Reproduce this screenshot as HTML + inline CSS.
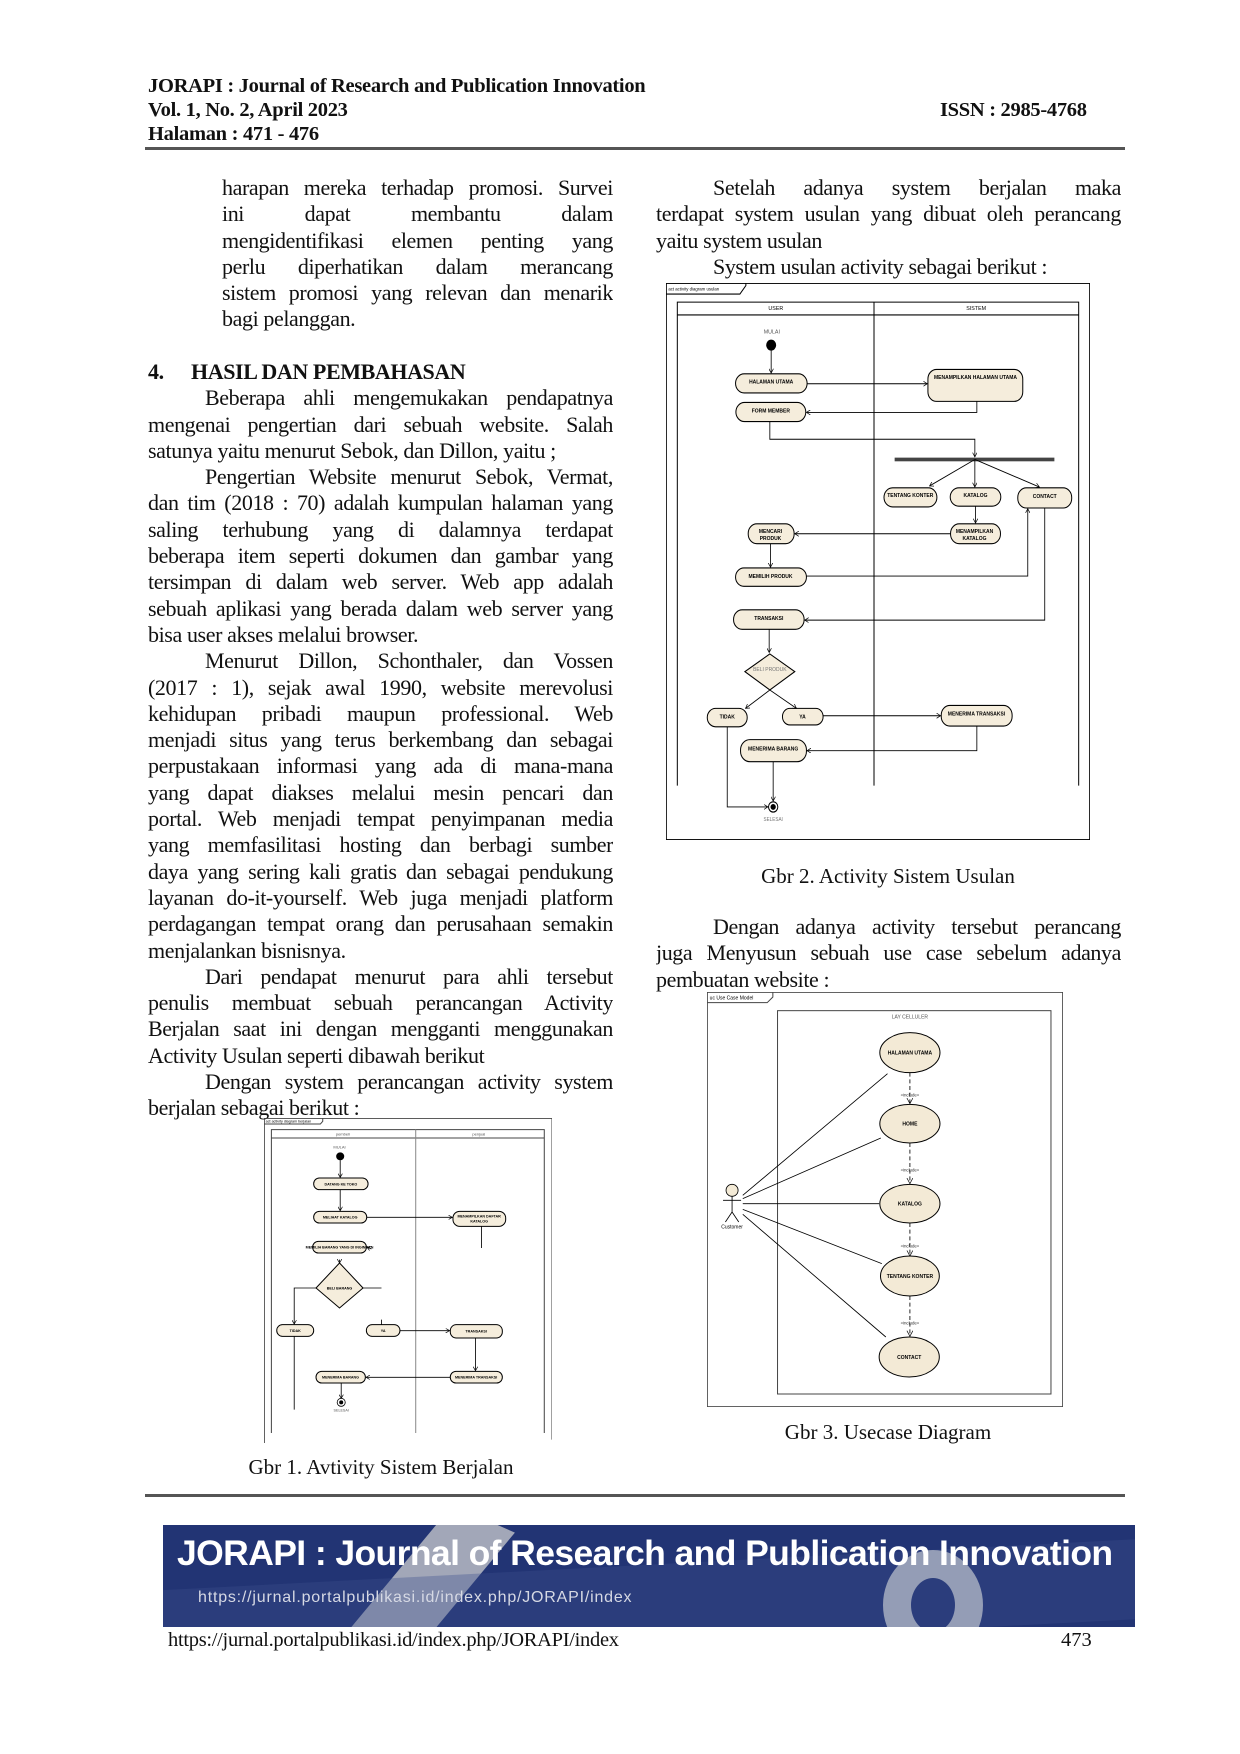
<!DOCTYPE html>
<html><head><meta charset="utf-8">
<style>
*{margin:0;padding:0;box-sizing:border-box}
body{width:1240px;height:1754px;background:#fff;position:relative;overflow:hidden;font-family:"Liberation Serif",serif;color:#111}
.abs{position:absolute}
.hd{font-weight:bold;font-size:20.5px;line-height:24px;letter-spacing:-0.3px}
.col{position:absolute;font-size:22px;line-height:26.3px;letter-spacing:-0.4px}
.col div{white-space:nowrap;height:26.3px;overflow:hidden}
.j{text-align:justify;text-align-last:justify;white-space:normal!important}
.ind{padding-left:57px}
.hr{position:absolute;left:145px;width:980px;height:3px;background:#555}
.cap{position:absolute;font-size:21px;text-align:center;width:400px}
svg text{font-family:"Liberation Sans",sans-serif}
</style></head><body>

<div class="abs hd" style="left:148px;top:74px">JORAPI : Journal of Research and Publication Innovation</div>
<div class="abs hd" style="left:148px;top:98px">Vol. 1, No. 2, April 2023</div>
<div class="abs hd" style="left:148px;top:122px">Halaman : 471 - 476</div>
<div class="abs hd" style="left:940px;top:98px">ISSN : 2985-4768</div>
<div class="hr" style="top:147px"></div>

<!-- left column -->
<div class="col" style="left:222px;top:175px;width:391px">
<div class="j">harapan mereka terhadap promosi. Survei</div>
<div class="j">ini dapat membantu dalam</div>
<div class="j">mengidentifikasi elemen penting yang</div>
<div class="j">perlu diperhatikan dalam merancang</div>
<div class="j">sistem promosi yang relevan dan menarik</div>
<div>bagi pelanggan.</div>
</div>
<div class="col" style="left:148px;top:359px;width:465px">
<div style="font-weight:bold"><span style="display:inline-block;width:43px">4.</span>HASIL DAN PEMBAHASAN</div>
<div class="j ind">Beberapa ahli mengemukakan pendapatnya</div>
<div class="j">mengenai pengertian dari sebuah website. Salah</div>
<div>satunya yaitu menurut Sebok, dan Dillon, yaitu ;</div>
<div class="j ind">Pengertian Website menurut Sebok, Vermat,</div>
<div class="j">dan tim (2018 : 70) adalah kumpulan halaman yang</div>
<div class="j">saling terhubung yang di dalamnya terdapat</div>
<div class="j">beberapa item seperti dokumen dan gambar yang</div>
<div class="j">tersimpan di dalam web server. Web app adalah</div>
<div class="j">sebuah aplikasi yang berada dalam web server yang</div>
<div>bisa user akses melalui browser.</div>
<div class="j ind">Menurut Dillon, Schonthaler, dan Vossen</div>
<div class="j">(2017 : 1), sejak awal 1990, website merevolusi</div>
<div class="j">kehidupan pribadi maupun professional. Web</div>
<div class="j">menjadi situs yang terus berkembang dan sebagai</div>
<div class="j">perpustakaan informasi yang ada di mana-mana</div>
<div class="j">yang dapat diakses melalui mesin pencari dan</div>
<div class="j">portal. Web menjadi tempat penyimpanan media</div>
<div class="j">yang memfasilitasi hosting dan berbagi sumber</div>
<div class="j">daya yang sering kali gratis dan sebagai pendukung</div>
<div class="j">layanan do-it-yourself. Web juga menjadi platform</div>
<div class="j">perdagangan tempat orang dan perusahaan semakin</div>
<div>menjalankan bisnisnya.</div>
<div class="j ind">Dari pendapat menurut para ahli tersebut</div>
<div class="j">penulis membuat sebuah perancangan Activity</div>
<div class="j">Berjalan saat ini dengan mengganti menggunakan</div>
<div>Activity Usulan seperti dibawah berikut</div>
<div class="j ind">Dengan system perancangan activity system</div>
<div>berjalan sebagai berikut :</div>
</div>

<!-- right column -->
<div class="col" style="left:656px;top:175px;width:465px">
<div class="j ind">Setelah adanya system berjalan maka</div>
<div class="j">terdapat system usulan yang dibuat oleh perancang</div>
<div>yaitu system usulan</div>
<div class="ind">System usulan activity sebagai berikut :</div>
</div>
<div class="col" style="left:656px;top:914px;width:465px">
<div class="j ind">Dengan adanya activity tersebut perancang</div>
<div class="j">juga Menyusun sebuah use case sebelum adanya</div>
<div>pembuatan website :</div>
</div>

<!-- Diagram 2 -->
<svg class="abs" style="left:666px;top:283px" width="424" height="557" viewBox="48 33 1274 1515" preserveAspectRatio="none">
<defs><marker id="a2" markerWidth="14" markerHeight="14" refX="12" refY="7" orient="auto" markerUnits="userSpaceOnUse"><path d="M0,0 L12,7 L0,14" fill="none" stroke="#000" stroke-width="2"/></marker></defs>
<g fill="none" stroke="#000" stroke-width="3">
<rect x="49" y="34" width="1272" height="1513"/>
<path d="M49,63 H270 L288,40 V34"/>
<path d="M82,1400 V85 H1288 V1400 M82,120 H1288 M673,85 V1400"/>
</g>
<text x="55" y="54" font-size="13">act activity diagram usulan</text>
<text x="378" y="106" font-size="16" text-anchor="middle">USER</text>
<text x="980" y="106" font-size="16" text-anchor="middle">SISTEM</text>
<text x="366" y="170" font-size="16" text-anchor="middle" fill="#555">MULAI</text>
<circle cx="364" cy="202" r="15" fill="#000"/>
<g fill="#f5eddc" stroke="#000" stroke-width="3">
<rect x="257" y="280" width="215" height="52" rx="26"/>
<rect x="835" y="268" width="285" height="87" rx="26"/>
<rect x="258" y="358" width="210" height="52" rx="26"/>
<rect x="703" y="590" width="159" height="52" rx="26"/>
<rect x="902" y="590" width="152" height="50" rx="26"/>
<rect x="1105" y="590" width="162" height="55" rx="26"/>
<rect x="903" y="688" width="150" height="54" rx="26"/>
<rect x="295" y="688" width="138" height="54" rx="26"/>
<rect x="257" y="808" width="213" height="50" rx="25"/>
<rect x="251" y="922" width="212" height="53" rx="26"/>
<path d="M360,1042 L435,1090 L360,1140 L285,1090 Z"/>
<rect x="172" y="1190" width="120" height="50" rx="25"/>
<rect x="398" y="1190" width="122" height="45" rx="22"/>
<rect x="875" y="1182" width="213" height="56" rx="26"/>
<rect x="272" y="1275" width="198" height="60" rx="28"/>
</g>
<rect x="735" y="508" width="480" height="10" fill="#444"/>
<g fill="none" stroke="#000" stroke-width="2.5" marker-end="url(#a2)">
<path d="M364,216 V278"/>
<path d="M472,307 H833"/>
<path d="M982,355 V385 H470"/>
<path d="M360,410 V458 H976 V506"/>
<path d="M976,513 L840,585"/>
<path d="M976,513 V588"/>
<path d="M976,513 L1170,588"/>
<path d="M978,640 V686"/>
<path d="M903,715 H435"/>
<path d="M362,742 V806"/>
<path d="M470,830 H1135 V647"/>
<path d="M1186,645 V950 H465"/>
<path d="M358,975 V1038"/>
<path d="M360,1140 L287,1190"/>
<path d="M360,1140 L440,1190"/>
<path d="M520,1210 H873"/>
<path d="M982,1238 V1305 H472"/>
<path d="M370,1335 V1442"/>
<path d="M232,1240 V1458 H354"/>
</g>
<circle cx="370" cy="1458" r="14" fill="#fff" stroke="#000" stroke-width="3"/>
<circle cx="370" cy="1458" r="8" fill="#000"/>
<g font-size="15" font-weight="bold" text-anchor="middle">
<text x="364" y="306">HALAMAN UTAMA</text>
<text x="978" y="294">MENAMPILKAN HALAMAN UTAMA</text>
<text x="363" y="385">FORM MEMBER</text>
<text x="782" y="615">TENTANG KONTER</text>
<text x="978" y="615">KATALOG</text>
<text x="1186" y="618">CONTACT</text>
<text x="975" y="713">MENAMPILKAN</text>
<text x="975" y="732">KATALOG</text>
<text x="362" y="713">MENCARI</text>
<text x="362" y="732">PRODUK</text>
<text x="362" y="836">MEMILIH PRODUK</text>
<text x="357" y="950">TRANSAKSI</text>
<text x="232" y="1218">TIDAK</text>
<text x="458" y="1218">YA</text>
<text x="981" y="1210">MENERIMA TRANSAKSI</text>
<text x="370" y="1304">MENERIMA BARANG</text>
</g>
<text x="360" y="1088" font-size="15" text-anchor="middle" fill="#777">BELI PRODUK</text>
<text x="370" y="1497" font-size="14" text-anchor="middle" fill="#777">SELESAI</text>
</svg>
<div class="cap" style="left:688px;top:864px">Gbr 2. Activity Sistem Usulan</div>

<!-- Diagram 3 -->
<svg class="abs" style="left:707px;top:992px" width="356" height="415" viewBox="25 30 1065 1245" preserveAspectRatio="none">
<defs><marker id="a3" markerWidth="20" markerHeight="20" refX="17" refY="9" orient="auto" markerUnits="userSpaceOnUse"><path d="M0,0 L17,9 L0,18" fill="none" stroke="#000" stroke-width="2"/></marker></defs>
<g fill="none" stroke="#444" stroke-width="3">
<rect x="26" y="31" width="1063" height="1243"/>
<path d="M26,62 H205 L222,45 V31"/>
<rect x="236" y="86" width="818" height="1150"/>
</g>
<text x="33" y="52" font-size="15">uc Use Case Model</text>
<text x="632" y="110" font-size="15" text-anchor="middle" fill="#555">LAY CELLULER</text>
<g fill="#f3ead6" stroke="#000" stroke-width="3">
<ellipse cx="632" cy="212" rx="90" ry="60"/>
<ellipse cx="632" cy="425" rx="90" ry="58"/>
<ellipse cx="632" cy="665" rx="90" ry="58"/>
<ellipse cx="632" cy="882" rx="88" ry="60"/>
<ellipse cx="630" cy="1125" rx="90" ry="60"/>
</g>
<g font-size="15" font-weight="bold" text-anchor="middle">
<text x="632" y="218">HALAMAN UTAMA</text>
<text x="632" y="431">HOME</text>
<text x="632" y="671">KATALOG</text>
<text x="632" y="888">TENTANG KONTER</text>
<text x="630" y="1131">CONTACT</text>
</g>
<g fill="none" stroke="#000" stroke-width="2.5" stroke-dasharray="12,8" marker-end="url(#a3)">
<path d="M632,272 V365"/><path d="M632,483 V605"/><path d="M632,723 V822"/><path d="M632,942 V1063"/>
</g>
<g font-size="13" text-anchor="middle" fill="#333">
<text x="632" y="344">«include»</text><text x="632" y="569">«include»</text><text x="632" y="797">«include»</text><text x="632" y="1027">«include»</text>
</g>
<g fill="none" stroke="#000" stroke-width="2.5">
<circle cx="100" cy="625" r="18" fill="#f3ead6"/>
<path d="M100,643 V690 M73,655 H127 M100,690 L80,720 M100,690 L120,720"/>
<path d="M132,640 L565,275 M132,650 L545,468 M132,665 L540,665 M132,682 L548,845 M132,697 L560,1065"/>
</g>
<text x="100" y="740" font-size="15" text-anchor="middle">Customer</text>
</svg>
<div class="cap" style="left:688px;top:1420px">Gbr 3. Usecase Diagram</div>

<!-- Diagram 1 -->
<svg class="abs" style="left:264px;top:1118px" width="288" height="325" viewBox="30 35 858 975" preserveAspectRatio="none">
<defs><marker id="a1" markerWidth="14" markerHeight="14" refX="12" refY="7" orient="auto" markerUnits="userSpaceOnUse"><path d="M0,0 L12,7 L0,14" fill="none" stroke="#000" stroke-width="2"/></marker></defs>
<g fill="none" stroke="#444" stroke-width="3">
<path d="M31,1010 V36 H888 V1000"/>
<path d="M31,53 H198 L205,45 V36"/>
<path d="M52,980 V70 H865 V980 M52,95 H865"/>
<path d="M482,70 V980" stroke="#888"/>
</g>
<text x="35" y="49" font-size="11">act activity diagram berjalan</text>
<text x="265" y="88" font-size="12" text-anchor="middle" fill="#555">pembeli</text>
<text x="670" y="88" font-size="12" text-anchor="middle" fill="#555">penjual</text>
<text x="255" y="126" font-size="12" text-anchor="middle" fill="#555">MULAI</text>
<circle cx="257" cy="150" r="12" fill="#000"/>
<g fill="#f5eddc" stroke="#000" stroke-width="3">
<rect x="178" y="215" width="162" height="35" rx="17"/>
<rect x="178" y="315" width="158" height="35" rx="17"/>
<rect x="593" y="315" width="157" height="45" rx="20"/>
<rect x="175" y="405" width="160" height="35" rx="17"/>
<path d="M255,470 L325,545 L255,605 L185,545 Z"/>
<rect x="68" y="655" width="110" height="35" rx="17"/>
<rect x="335" y="655" width="100" height="35" rx="17"/>
<rect x="585" y="655" width="155" height="40" rx="18"/>
<rect x="585" y="795" width="155" height="35" rx="17"/>
<rect x="185" y="795" width="147" height="35" rx="17"/>
</g>
<g fill="none" stroke="#000" stroke-width="2.5">
<path d="M678,360 V425 M325,545 H380 M120,690 V910 M380,640 V655"/>
</g>
<g fill="none" stroke="#000" stroke-width="2.5" marker-end="url(#a1)">
<path d="M257,162 V213"/><path d="M257,250 V313"/><path d="M336,333 H591"/>
<path d="M350,428 L337,422"/><path d="M255,460 V470"/>
<path d="M185,545 H120 V653"/><path d="M435,673 H583"/>
<path d="M660,695 V793"/><path d="M585,813 H334"/><path d="M260,830 V876"/>
</g>
<circle cx="260" cy="888" r="12" fill="#fff" stroke="#000" stroke-width="2.5"/>
<circle cx="260" cy="888" r="6" fill="#000"/>
<g font-size="11" font-weight="bold" text-anchor="middle">
<text x="259" y="237">DATANG KE TOKO</text>
<text x="257" y="337">MELIHAT KATALOG</text>
<text x="671" y="333">MENAMPILKAN DAFTAR</text>
<text x="671" y="348">KATALOG</text>
<text x="255" y="427">MEMILIH BARANG YANG DI INGINKAN</text>
<text x="255" y="549">BELI BARANG</text>
<text x="123" y="677">TIDAK</text>
<text x="385" y="677">YA</text>
<text x="662" y="679">TRANSAKSI</text>
<text x="662" y="817">MENERIMA TRANSAKSI</text>
<text x="258" y="817">MENERIMA BARANG</text>
</g>
<text x="260" y="916" font-size="11" text-anchor="middle" fill="#555">SELESAI</text>
</svg>
<div class="cap" style="left:181px;top:1455px">Gbr 1. Avtivity Sistem Berjalan</div>

<div class="hr" style="top:1494px"></div>

<!-- banner -->
<div class="abs" style="left:163px;top:1525px;width:972px;height:102px;background:#223474;overflow:hidden">
<div class="abs" style="left:230px;top:-10px;width:80px;height:130px;background:#b9bcc4;transform:skewX(-25deg) rotate(20deg);opacity:.85"></div>
<div class="abs" style="left:720px;top:25px;width:100px;height:110px;border-radius:50%;border:28px solid #c4c6cc"></div>
<div class="abs" style="left:-20px;top:40px;width:1000px;height:80px;background:rgba(60,80,140,.35);transform:skewY(-3deg)"></div>
<div class="abs" style="left:14px;top:8px;color:#fff;font-family:'Liberation Sans',sans-serif;font-weight:bold;font-size:35.5px;letter-spacing:-0.6px;white-space:nowrap">JORAPI : Journal of Research and Publication Innovation</div>
<div class="abs" style="left:35px;top:64px;color:#d6d9e4;font-family:'Liberation Sans',sans-serif;font-size:16px;letter-spacing:0.8px;white-space:nowrap">https://jurnal.portalpublikasi.id/index.php/JORAPI/index</div>
</div>
<div class="abs" style="left:168px;top:1629px;font-size:20.5px;letter-spacing:-0.3px">https://jurnal.portalpublikasi.id/index.php/JORAPI/index</div>
<div class="abs" style="left:1061px;top:1629px;font-size:20.5px">473</div>
</body></html>
